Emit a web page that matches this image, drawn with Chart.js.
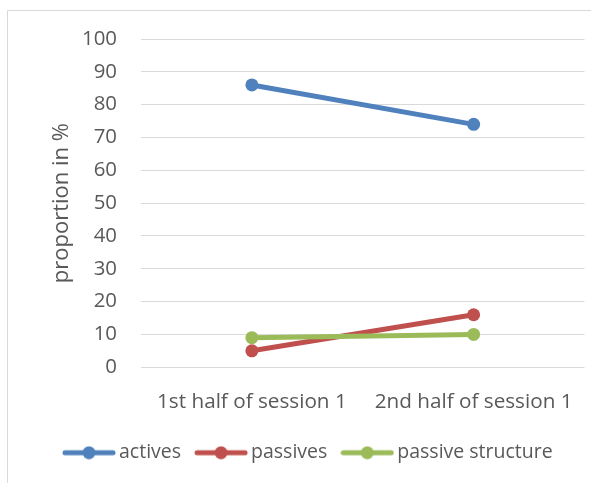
<!DOCTYPE html>
<html>
<head>
<meta charset="utf-8">
<script src="https://cdn.jsdelivr.net/npm/chart.js@4/dist/chart.umd.min.js"></script>
<style>
  html, body { margin: 0; padding: 0; background: #ffffff; }
  #wrap { width: 591px; height: 483px; position: relative; }
</style>
</head>
<body>
<div id="wrap"><canvas id="c"></canvas></div>
<script>
// Categories and series values
const categories = ['1st half of session 1', '2nd half of session 1'];
const activesValues = [86, 74];
const passivesValues = [5, 16];
const passiveStructureValues = [9, 10];
const seriesNames = ['actives', 'passives', 'passive structure'];
const seriesColors = ['#4F81BD', '#C0504D', '#9BBB59'];
const yAxisMin = 0;
const yAxisMax = 100;
const yAxisStep = 10;
const yAxisTitle = 'proportion in %';

const textColor = '#595959';
const gridColor = '#d9d9d9';
const family = "'Open Sans', 'Noto Sans', sans-serif";

// Legend marker: a short thick line with a dot in the middle
function makeMarker(color) {
  const cv = document.createElement('canvas');
  cv.width = 54; cv.height = 14;
  const g = cv.getContext('2d');
  g.strokeStyle = color; g.lineWidth = 5; g.lineCap = 'round';
  g.beginPath(); g.moveTo(3, 7); g.lineTo(51, 7); g.stroke();
  g.fillStyle = color;
  g.beginPath(); g.arc(27, 7, 6.5, 0, Math.PI * 2); g.fill();
  return cv;
}
const markers = seriesColors.map(makeMarker);

// Light frame around the chart
const frame = {
  id: 'frame',
  beforeDraw(chart) {
    const ctx = chart.ctx;
    ctx.save();
    ctx.strokeStyle = gridColor;
    ctx.lineWidth = 1;
    ctx.beginPath();
    ctx.moveTo(7.5, chart.height);
    ctx.lineTo(7.5, 10.5);
    ctx.lineTo(chart.width, 10.5);
    ctx.stroke();
    ctx.restore();
  }
};

// Move the legend row so it starts under the axis labels
const legendPlace = {
  id: 'legendPlace',
  afterLayout(chart) {
    if (chart.legend) { chart.legend.left = 49; }
  }
};

const seriesValues = [activesValues, passivesValues, passiveStructureValues];
const drawOrder = [0, 2, 1];

new Chart(document.getElementById('c'), {
  type: 'line',
  data: {
    labels: categories,
    datasets: seriesNames.map((name, i) => ({
      label: name,
      data: seriesValues[i],
      borderColor: seriesColors[i],
      backgroundColor: seriesColors[i],
      borderWidth: 5,
      pointRadius: 6.5,
      pointHoverRadius: 6.5,
      pointBorderWidth: 0,
      pointBackgroundColor: seriesColors[i],
      tension: 0,
      fill: false,
      order: drawOrder[i]
    }))
  },
  options: {
    responsive: true,
    maintainAspectRatio: false,
    animation: false,
    layout: { padding: { left: 7, right: 6, top: 39, bottom: 10.5 } },
    plugins: {
      tooltip: { enabled: false },
      legend: {
        position: 'bottom',
        align: 'start',
        labels: {
          usePointStyle: true,
          pointStyleWidth: 40.5,
          padding: 19.75,
          color: textColor,
          font: { family, size: 19.5 },
          generateLabels(chart) {
            return chart.data.datasets.map((ds, i) => ({
              text: ds.label,
              pointStyle: markers[i],
              fillStyle: seriesColors[i],
              strokeStyle: seriesColors[i],
              lineWidth: 0,
              fontColor: textColor,
              hidden: false,
              datasetIndex: i
            }));
          }
        }
      }
    },
    scales: {
      x: {
        offset: true,
        grid: { display: false },
        border: { display: false },
        ticks: { color: textColor, font: { family, size: 20.7 }, padding: 14, maxRotation: 0 },
        afterFit(scale) { scale.height = 56; }
      },
      y: {
        min: yAxisMin,
        max: yAxisMax,
        ticks: { stepSize: yAxisStep, color: textColor, font: { family, size: 20.4 }, padding: 24 },
        grid: { color: gridColor, lineWidth: 1, drawTicks: false },
        border: { display: false },
        title: {
          display: true,
          text: yAxisTitle,
          color: textColor,
          font: { family, size: 22 },
          padding: { top: 42, bottom: 0 }
        },
        afterFit(scale) { scale.width = 134; }
      }
    }
  },
  plugins: [frame, legendPlace]
});
</script>
</body>
</html>
